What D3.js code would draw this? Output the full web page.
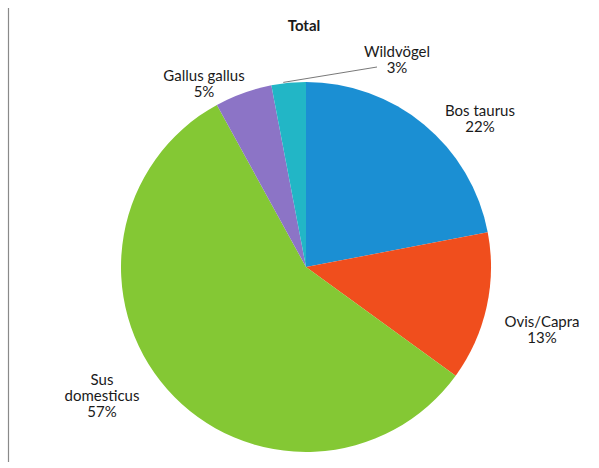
<!doctype html>
<html>
	<head>
		<meta charset="utf-8">
		<style type="text/css">
			body { margin: 0; background: #fff; }
			text { font-family: Lato, "Open Sans", sans-serif; fill: #1a1a1a; }
		</style>
		<script src="https://d3js.org/d3.v7.min.js"></script>
	</head>
	<body>
		<svg width="599" height="468"></svg>
		<script type="text/javascript">

			// data
			var names = ["Bos taurus", "Ovis/Capra", "Sus domesticus", "Gallus gallus", "Wildvögel"];
			var values = [22, 13, 57, 5, 3];
			var colors = ["#1b8fd3", "#f04e1d", "#84c834", "#8c74c6", "#22b6c6"];
			// label lines as printed
			var labelLines = [["Bos taurus"], ["Ovis/Capra"], ["Sus", "domesticus"], ["Gallus gallus"], ["Wildvögel"]];

			// first-baseline of each label, relative to pie centre (layout only)
			var labelOffset = [[174, -151], [236, 60], [-204, 118], [-102, -186], [91, -210]];

			var svg = d3.select("svg"),
				cx = 306,
				cy = 267,
				radius = 185;

			// frame line at left
			svg.append("line")
				.attr("x1", 8.5).attr("x2", 8.5)
				.attr("y1", 8).attr("y2", 462)
				.style("stroke", "#8a8a8a")
				.style("stroke-width", 1.2);

			svg.append("text")
				.attr("x", 304)
				.attr("y", 31)
				.attr("text-anchor", "middle")
				.style("font-weight", "bold")
				.style("font-size", "15px")
				.text("Total");

			var data = names.map((n, i) => ({ name: n, value: values[i], color: colors[i], lines: labelLines[i], off: labelOffset[i] }));

			var pie = d3.pie()
				.sort(null)
				.value((d) => d.value);

			var arc = d3.arc()
				.innerRadius(0)
				.outerRadius(radius);

			var g = svg.append("g")
				.attr("transform", `translate(${cx}, ${cy})`);

			var arcs = pie(data);

			g.selectAll("path")
				.data(arcs).enter()
				.append("path")
					.attr("d", arc)
					.style("fill", (d) => d.data.color);

			// leader for the small slice
			var wild = arcs[4];
			var a = wild.startAngle + (wild.endAngle - wild.startAngle) * 0.35;
			g.append("line")
				.attr("x1", Math.sin(a) * (radius + 1))
				.attr("y1", -Math.cos(a) * (radius + 1))
				.attr("x2", 71)
				.attr("y2", -200)
				.style("stroke", "#555")
				.style("stroke-width", 0.8);

			var labels = g.selectAll("text.label")
				.data(arcs).enter()
				.append("text")
					.attr("class", "label")
					.attr("text-anchor", "middle")
					.style("font-size", "15px")
					.attr("transform", (d) => `translate(${d.data.off[0]}, ${d.data.off[1]})`);

			labels.each(function(d) {
				var t = d3.select(this);
				var lines = d.data.lines.concat([d.data.value + "%"]);
				lines.forEach((l, i) => {
					t.append("tspan")
						.attr("x", 0)
						.attr("y", i * 16)
						.text(l);
				});
			});
		</script>
	</body>
</html>
